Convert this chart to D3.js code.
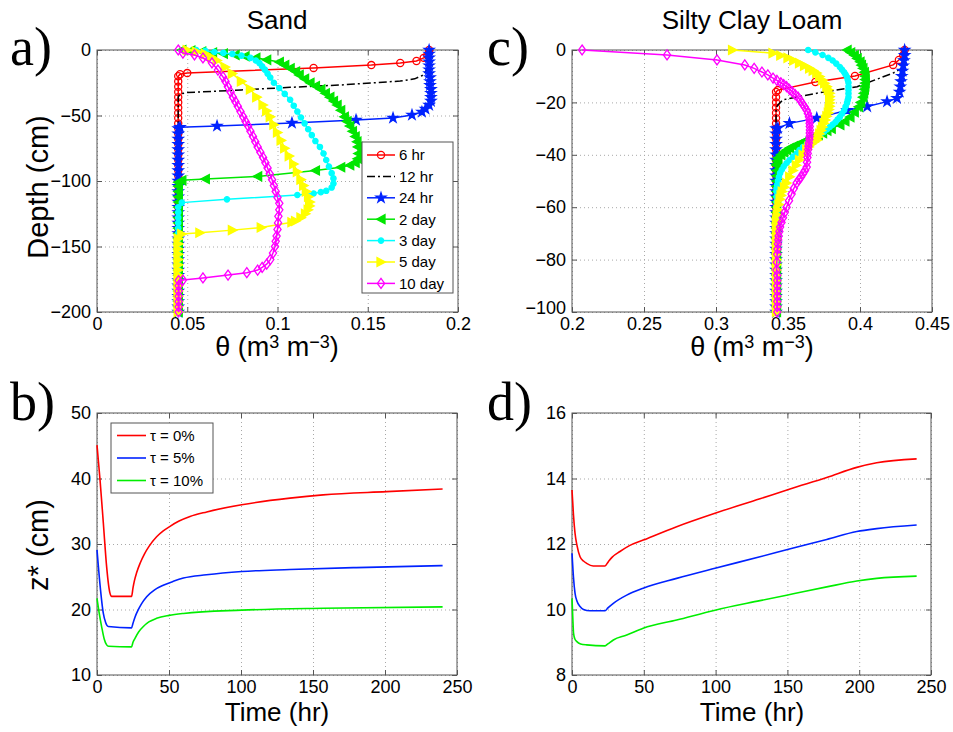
<!doctype html>
<html>
<head>
<meta charset="utf-8">
<script src="https://cdnjs.cloudflare.com/ajax/libs/d3/7.8.5/d3.min.js"></script>
<style>
  body { margin: 0; background: #fff; }
</style>
</head>
<body>
<svg width="953" height="732" font-family="'Liberation Sans', Arial, sans-serif"></svg>
<script>
// ---- data ----
var profileLabels = ["6 hr", "12 hr", "24 hr", "2 day", "3 day", "5 day", "10 day"];

// model depth nodes below the wetting fronts (cm)
var sandDepthGrid = [-20,-24,-28,-32,-36,-40,-44,-48,-52,-56,-60,-64,-68,-72,-76,-80,-84,-88,-92,-96,
  -100,-104,-108,-112,-116,-120,-124,-128,-132,-136,-140,-144,-148,-152,-156,-160,-164,-168,-172,-176,
  -180,-184,-188,-192,-196,-200];
var loamDepthGrid = [-16,-18,-20,-22,-24,-26,-28,-30,-32,-34,-36,-38,-40,-42,-44,-46,-48,-50,-52,-54,
  -56,-58,-60,-62,-64,-66,-68,-70,-72,-74,-76,-78,-80,-82,-84,-86,-88,-90,-92,-94,-96,-98,-100];

// residual water content below the front, per profile
var sandTail = [0.045, 0.045, 0.045, 0.045, 0.045, 0.045, 0.0452];
var loamTail = [0.3417, 0.3417, 0.3417, 0.342, 0.342, 0.342, 0.3425];

// [theta, depth] above the tail
var sand6hr = [[0.184,0],[0.184,-2],[0.183,-4],[0.181,-6],[0.177,-8.4],[0.168,-9.9],[0.152,-11.5],
  [0.12,-13.7],[0.05,-17.6],[0.046,-18.5]];
var sand12hr = [[0.184,0],[0.184,-8],[0.183,-14],[0.181,-19],[0.176,-22],[0.168,-23.7],[0.135,-26.7],
  [0.107,-28.5],[0.08,-30.5],[0.05,-32.5],[0.046,-33.5]];
var sand24hr = [[0.184,0],[0.184,-3],[0.184,-6],[0.184,-9],[0.184,-12],[0.184,-15],[0.184,-18],
  [0.1845,-21],[0.1845,-24],[0.1845,-27],[0.185,-30],[0.185,-33],[0.185,-36],[0.185,-39],[0.184,-42],
  [0.182,-45],[0.18,-47.3],[0.1745,-49.6],[0.164,-51.9],[0.1435,-53.4],[0.108,-55.7],[0.0665,-58],[0.046,-59]];
var sand2day = [[0.047,0],[0.052,-0.5],[0.058,-1.2],[0.064,-2],[0.07,-2.8],[0.0765,-3.8],[0.082,-4.8],
  [0.088,-6],[0.094,-7.5],[0.101,-9.2],[0.104,-11.5],[0.107,-14],[0.11,-16.5],[0.112,-19],[0.115,-22],
  [0.118,-25],[0.121,-27.5],[0.124,-30],[0.1265,-33],[0.129,-36],[0.131,-39],[0.133,-42],[0.135,-46],
  [0.137,-51],[0.1385,-54.5],[0.14,-58],[0.1415,-62],[0.143,-66],[0.144,-70],[0.1445,-74],[0.1447,-79],
  [0.1443,-83],[0.143,-86],[0.14,-88],[0.135,-89.5],[0.121,-92],[0.089,-96.5],[0.06,-98.5],[0.047,-99.5],
  [0.045,-101]];
var sand3day = [[0.055,0],[0.06,-0.7],[0.065,-1.5],[0.07,-2.2],[0.075,-3],[0.08,-4.3],[0.085,-6],
  [0.088,-8],[0.09,-10],[0.0915,-12.5],[0.093,-15],[0.0945,-18],[0.096,-21],[0.098,-25],[0.101,-29],
  [0.104,-33.5],[0.107,-38],[0.109,-42.5],[0.111,-47],[0.113,-51.5],[0.115,-56],[0.117,-60.5],
  [0.119,-65],[0.121,-69.5],[0.1235,-74],[0.1255,-79],[0.127,-84],[0.1285,-89],[0.13,-94],[0.131,-98],
  [0.131,-102],[0.13,-105],[0.127,-107.5],[0.124,-108.5],[0.12,-109.5],[0.111,-110.7],[0.072,-114],
  [0.047,-116.5]];
var sand5day = [[0.05,0],[0.055,-1.2],[0.06,-3],[0.0635,-5.5],[0.0665,-8],[0.071,-13],[0.075,-18],
  [0.08,-24],[0.085,-30],[0.0885,-36],[0.092,-42],[0.094,-46.5],[0.096,-51],[0.098,-57],[0.1,-63],
  [0.102,-69],[0.104,-75],[0.1065,-81],[0.109,-87],[0.111,-93],[0.113,-99],[0.1145,-103.5],[0.116,-108],
  [0.1172,-112],[0.118,-116],[0.1178,-119],[0.117,-122],[0.1155,-125],[0.113,-128],[0.11,-130.5],
  [0.108,-131.5],[0.091,-135.5],[0.075,-137.5],[0.057,-139.5],[0.047,-140.5]];
var sand10day = [[0.045,0],[0.0476,-2.3],[0.054,-3.8],[0.0587,-6.1],[0.0637,-9.9],[0.067,-15.3],
  [0.0698,-20.6],[0.0712,-24],[0.0725,-28],[0.074,-32],[0.0753,-36],[0.0767,-39.5],[0.078,-43],
  [0.0795,-47],[0.081,-51],[0.0823,-54.5],[0.0837,-58],[0.085,-62],[0.0864,-66],[0.0877,-70],[0.089,-74],
  [0.0905,-78],[0.092,-82],[0.0933,-86],[0.0945,-90],[0.0957,-94.5],[0.097,-99],[0.098,-103.5],
  [0.099,-108],[0.1,-112.5],[0.101,-117],[0.101,-122],[0.1005,-127],[0.1003,-132],[0.1,-137],
  [0.0995,-142],[0.099,-146],[0.0986,-150],[0.0975,-155],[0.096,-160],[0.094,-163.5],[0.0915,-166],
  [0.089,-168],[0.083,-170],[0.0726,-171.8],[0.0587,-174],[0.0476,-175.6]];

var loam6hr = [[0.431,0],[0.43,-2],[0.427,-3.8],[0.423,-5.7],[0.3965,-9.9],[0.369,-12.2],[0.343,-15.3]];
var loam12hr = [[0.431,0],[0.431,-4],[0.429,-7],[0.423,-8.8],[0.398,-14],[0.37,-16.5],[0.3465,-19],[0.343,-21]];
var loam24hr = [[0.431,0],[0.431,-2],[0.4305,-4],[0.43,-6],[0.4295,-8],[0.429,-10],[0.4285,-12],
  [0.428,-14],[0.4275,-16],[0.4257,-18.4],[0.4188,-19.7],[0.405,-21.6],[0.391,-23],[0.37,-26],
  [0.351,-28],[0.343,-29.8]];
var loam2day = [[0.391,0],[0.3935,-1],[0.396,-2],[0.398,-3.2],[0.4,-4.5],[0.401,-5.8],[0.402,-7],
  [0.403,-8.5],[0.4035,-10],[0.4035,-11.3],[0.4035,-12.6],[0.4033,-13.8],[0.403,-15],[0.4025,-16.5],
  [0.402,-18],[0.4005,-20],[0.399,-21.7],[0.396,-23.7],[0.393,-25.6],[0.3895,-27.2],[0.386,-28.6],
  [0.38,-30],[0.377,-30.8],[0.374,-31.7],[0.371,-32.4],[0.368,-33],[0.3655,-33.7],[0.363,-34.4],
  [0.36,-35.2],[0.357,-36],[0.354,-36.7],[0.351,-37.4],[0.349,-38.2],[0.347,-39],[0.345,-40],
  [0.343,-41.2],[0.3425,-42.3],[0.342,-43.5]];
var loam3day = [[0.364,0],[0.369,-0.9],[0.374,-1.9],[0.378,-3],[0.381,-4],[0.3835,-5.2],[0.386,-6.5],
  [0.3875,-7.5],[0.389,-8.5],[0.39,-9.4],[0.391,-10.3],[0.3915,-11.4],[0.392,-12.5],[0.392,-14],
  [0.392,-15.3],[0.392,-16.6],[0.392,-18],[0.3915,-19.1],[0.391,-20.2],[0.39,-21.6],[0.389,-23],
  [0.3875,-24.3],[0.386,-25.6],[0.3845,-26.5],[0.383,-27.5],[0.381,-28.5],[0.379,-29.4],[0.377,-30.3],
  [0.375,-31.3],[0.3725,-32.2],[0.37,-33.2],[0.3675,-34.1],[0.365,-35],[0.363,-36],[0.3605,-37],
  [0.358,-38.2],[0.356,-39.5],[0.3535,-40.7],[0.351,-42],[0.349,-43.2],[0.347,-44.5],[0.3457,-45.7],
  [0.3445,-47],[0.3437,-48.5],[0.343,-50],[0.3425,-51.5],[0.342,-53]];
var loam5day = [[0.3115,0],[0.3396,-1.2],[0.345,-2.1],[0.35,-3],[0.354,-4],[0.358,-5],[0.3615,-6],
  [0.365,-7],[0.3675,-7.9],[0.37,-8.8],[0.372,-10.1],[0.374,-11.5],[0.3755,-12.7],[0.377,-14],
  [0.378,-15.2],[0.379,-16.5],[0.379,-17.8],[0.379,-19],[0.379,-20.2],[0.379,-21.5],[0.3785,-22.7],
  [0.378,-24],[0.377,-25.3],[0.376,-26.7],[0.375,-28],[0.374,-29.4],[0.373,-30.7],[0.372,-32],
  [0.371,-33.2],[0.37,-34.4],[0.368,-35.2],[0.366,-36],[0.3645,-37],[0.363,-38],[0.3605,-40],
  [0.358,-42],[0.3558,-44],[0.3535,-46],[0.3512,-48.4],[0.349,-50.8],[0.3475,-52.4],[0.346,-54],
  [0.3452,-55.5],[0.3445,-57],[0.3437,-59],[0.343,-61],[0.3425,-63],[0.342,-65]];
var loam10day = [[0.207,0],[0.266,-1.9],[0.3007,-3.8],[0.32,-5.7],[0.3265,-7],[0.3319,-8.4],
  [0.336,-9.5],[0.3396,-10.7],[0.3423,-11.6],[0.345,-12.5],[0.347,-13.2],[0.349,-14],[0.351,-15],
  [0.353,-16],[0.355,-17],[0.357,-18],[0.3585,-19.2],[0.36,-20.5],[0.3615,-21.7],[0.363,-23],
  [0.3638,-24.2],[0.3645,-25.5],[0.3648,-26.7],[0.365,-28],[0.3651,-29.2],[0.3652,-30.5],[0.3651,-31.7],
  [0.365,-33],[0.3648,-34.2],[0.3645,-35.5],[0.3642,-36.7],[0.364,-38],[0.3637,-39.5],[0.3635,-41],
  [0.3632,-42.8],[0.363,-44.7],[0.3618,-46],[0.3604,-47.2],[0.359,-48.5],[0.3575,-49.6],[0.356,-50.8],
  [0.354,-52.9],[0.3525,-55],[0.3507,-57.5],[0.349,-60],[0.3477,-62],[0.3465,-64],[0.3455,-65.8],
  [0.3445,-67.6],[0.344,-69.3],[0.3435,-71],[0.3432,-72.5],[0.343,-74],[0.3427,-76],[0.3425,-78],
  [0.3422,-81],[0.342,-84]];

var tauLabels = ["\u03c4 = 0%", "\u03c4 = 5%", "\u03c4 = 10%"];

// [time hr, z* cm]
var sandTau0 = [[0,45.1],[1,42.6],[2.1,39.8],[4.4,33.2],[6.7,26.5],[8,23.8],[9,22.5],[10.2,22],[24,22],
  [25,23.3],[26,24.4],[27.5,25.6],[30,27.1],[33,28.5],[36,29.6],[41.4,31.1],[46,32],[50.7,32.7],
  [57,33.5],[64.6,34.2],[76.2,34.9],[100.5,36],[134,37],[157,37.5],[201,38],[240,38.4]];
var sandTau5 = [[0,29.1],[2,24],[4.4,19.4],[6,18],[7.8,17.4],[24,17.2],[25,17.9],[26.5,18.9],
  [28.5,19.9],[31,20.9],[34.5,21.95],[40,23],[46,23.7],[53,24.3],[60,24.8],[76,25.3],[100.5,25.8],
  [134,26.1],[180,26.4],[240,26.7]];
var sandTau10 = [[0,21.7],[1.5,19.5],[3.2,17.4],[5,15.5],[6.7,14.6],[8,14.4],[24,14.3],[25,15],[26.4,15.6],
  [29,16.6],[32.2,17.4],[36,18.1],[41.4,18.65],[50,19.1],[60,19.4],[100.5,19.9],[157,20.2],[240,20.4]];

var loamTau0 = [[0,13.65],[1,12.9],[2.1,12.33],[3.5,11.95],[5.6,11.61],[8,11.48],[10.2,11.41],[14.8,11.33],
  [23,11.33],[25.3,11.46],[28,11.6],[33.4,11.77],[40,11.95],[49.6,12.12],[72.9,12.53],[99.6,12.94],
  [130.9,13.38],[151.8,13.68],[177.4,14.03],[198.3,14.34],[212.2,14.48],[240,14.6]];
var loamTau5 = [[0,11.72],[1,11.0],[2.1,10.5],[3.5,10.25],[5.6,10.09],[8,10.0],[12.5,9.96],[23,9.96],
  [25,10.05],[28.8,10.19],[38.1,10.44],[49.6,10.65],[72.9,10.95],[99.6,11.26],[130.9,11.61],
  [154.1,11.88],[177.4,12.14],[198.3,12.38],[212.2,12.47],[240,12.58]];
var loamTau10 = [[0,10.34],[0.6,9.7],[1.1,9.27],[2,9.1],[3.4,9.02],[6,8.95],[10.2,8.92],[23,8.89],
  [25,8.95],[28.8,9.07],[38.1,9.22],[49.6,9.43],[72.9,9.68],[99.6,9.98],[130.9,10.27],[154.1,10.48],
  [177.4,10.69],[198.3,10.87],[212.2,10.95],[240,11.02]];

// tick values
var sandThetaTicks = [0, 0.05, 0.1, 0.15, 0.2];
var sandDepthTicks = [-200, -150, -100, -50, 0];
var loamThetaTicks = [0.2, 0.25, 0.3, 0.35, 0.4, 0.45];
var loamDepthTicks = [-100, -80, -60, -40, -20, 0];
var timeTicks = [0, 50, 100, 150, 200, 250];
var sandZTicks = [10, 20, 30, 40, 50];
var loamZTicks = [8, 10, 12, 14, 16];

// ---- styles ----
var profileStyles = [
  {color: "#ff0000", marker: "o"},
  {color: "#000000", marker: null, dash: "8,3,2,3"},
  {color: "#0022ff", marker: "p"},
  {color: "#00e600", marker: "<"},
  {color: "#00ffff", marker: "."},
  {color: "#ffff00", marker: ">"},
  {color: "#ff00ff", marker: "d"}
];
var tauColors = ["#ff0000", "#0022ff", "#00ee00"];
var sansFont = "'Liberation Sans', Arial, sans-serif";

var svg = d3.select("svg");

var boxA = {x0: 97, x1: 458, y0: 50, y1: 312},
    boxC = {x0: 572, x1: 932, y0: 50, y1: 312},
    boxB = {x0: 97, x1: 457, y0: 413, y1: 675},
    boxD = {x0: 572, x1: 931, y0: 413, y1: 675};

function fmt(v) {
  return (v < 0 ? "\u2212" : "") + Math.abs(v);
}

function makePanel(box, xDomain, yDomain, xTicks, yTicks, liftLowest) {
  var x = d3.scaleLinear().domain(xDomain).range([box.x0, box.x1]),
      y = d3.scaleLinear().domain(yDomain).range([box.y1, box.y0]);
  var w = box.x1 - box.x0, h = box.y1 - box.y0;
  var g = svg.append("g");

  // dotted grid
  g.append("g").attr("class", "grid")
   .attr("transform", "translate(0," + box.y1 + ")")
   .call(d3.axisBottom(x).tickValues(xTicks).tickSize(-h).tickFormat(""));
  g.append("g").attr("class", "grid")
   .attr("transform", "translate(" + box.x0 + ",0)")
   .call(d3.axisLeft(y).tickValues(yTicks).tickSize(-w).tickFormat(""));
  g.selectAll(".grid .domain").remove();
  g.selectAll(".grid line").attr("stroke", "#a8a8a8").attr("stroke-dasharray", "1,3");

  g.append("rect")
   .attr("x", box.x0).attr("y", box.y0).attr("width", w).attr("height", h)
   .attr("fill", "none").attr("stroke", "#555").attr("stroke-width", 1);

  // inward ticks on all four sides
  var left = g.append("g").attr("transform", "translate(" + box.x0 + ",0)")
     .call(d3.axisLeft(y).tickValues(yTicks).tickSize(-5).tickPadding(6).tickFormat(fmt));
  var axes = [
    g.append("g").attr("transform", "translate(0," + box.y1 + ")")
     .call(d3.axisBottom(x).tickValues(xTicks).tickSize(-5).tickPadding(5).tickFormat(fmt)),
    left,
    g.append("g").attr("transform", "translate(0," + box.y0 + ")")
     .call(d3.axisTop(x).tickValues(xTicks).tickSize(-5).tickFormat("")),
    g.append("g").attr("transform", "translate(" + box.x1 + ",0)")
     .call(d3.axisRight(y).tickValues(yTicks).tickSize(-5).tickFormat(""))
  ];
  axes.forEach(function(a) {
    a.select(".domain").remove();
    a.selectAll("line").attr("stroke", "#555");
    a.selectAll("text").attr("font-size", "18px")
     .attr("font-family", sansFont).attr("fill", "#000");
  });
  if (liftLowest) {
    // keep the corner label clear of the first x tick label
    left.selectAll("text").filter(function(d) { return d === yTicks[0]; }).attr("dy", "0.1em");
  }
  return {x: x, y: y, g: svg.append("g")};
}

function markerPath(type) {
  if (type === "o") return d3.symbol(d3.symbolCircle, 40)();
  if (type === "p") return d3.symbol(d3.symbolStar, 30)();
  if (type === "<") return "M-4.5,0L4,-4.5L4,4.5Z";
  if (type === ">") return "M4.5,0L-4,-4.5L-4,4.5Z";
  if (type === "d") return "M0,-5L3.6,0L0,5L-3.6,0Z";
  if (type === ".") return d3.symbol(d3.symbolCircle, 22)();
  return null;
}

function drawMarkers(g, pts, st) {
  if (!st.marker) return;
  var open = st.marker === "o" || st.marker === "d";
  g.selectAll(null).data(pts).enter().append("path")
   .attr("d", markerPath(st.marker))
   .attr("transform", function(d) { return "translate(" + d[0] + "," + d[1] + ")"; })
   .attr("fill", open ? "none" : st.color)
   .attr("stroke", st.color)
   .attr("stroke-width", 1.3);
}

function drawProfiles(p, fronts, tails, grid) {
  var line = d3.line().x(function(d) { return p.x(d[0]); }).y(function(d) { return p.y(d[1]); });
  fronts.forEach(function(front, i) {
    var last = front[front.length - 1][1];
    var pts = front.concat(grid.filter(function(d) { return d < last; })
                               .map(function(d) { return [tails[i], d]; }));
    var st = profileStyles[i];
    p.g.append("path").datum(pts)
     .attr("d", line).attr("fill", "none")
     .attr("stroke", st.color).attr("stroke-width", 1.5)
     .attr("stroke-dasharray", st.dash || null);
    drawMarkers(p.g, pts.map(function(d) { return [p.x(d[0]), p.y(d[1])]; }), st);
  });
}

function drawTimeSeries(p, series) {
  var line = d3.line().x(function(d) { return p.x(d[0]); }).y(function(d) { return p.y(d[1]); })
               .curve(d3.curveMonotoneX);
  series.forEach(function(s, i) {
    p.g.append("path").datum(s)
     .attr("d", line).attr("fill", "none")
     .attr("stroke", tauColors[i]).attr("stroke-width", 1.6);
  });
}

// ---- panels ----
var pA = makePanel(boxA, [0, 0.2], [-200, 0], sandThetaTicks, sandDepthTicks, false);
drawProfiles(pA, [sand6hr, sand12hr, sand24hr, sand2day, sand3day, sand5day, sand10day], sandTail, sandDepthGrid);

var pC = makePanel(boxC, [0.2, 0.45], [-100, 0], loamThetaTicks, loamDepthTicks, true);
drawProfiles(pC, [loam6hr, loam12hr, loam24hr, loam2day, loam3day, loam5day, loam10day], loamTail, loamDepthGrid);

var pB = makePanel(boxB, [0, 250], [10, 50], timeTicks, sandZTicks, false);
drawTimeSeries(pB, [sandTau0, sandTau5, sandTau10]);

var pD = makePanel(boxD, [0, 250], [8, 16], timeTicks, loamZTicks, false);
drawTimeSeries(pD, [loamTau0, loamTau5, loamTau10]);

// ---- legend (a) ----
var legA = svg.append("g");
legA.append("rect").attr("x", 362).attr("y", 142).attr("width", 91).attr("height", 151)
    .attr("fill", "#fff").attr("stroke", "#555");
profileLabels.forEach(function(lab, i) {
  var yy = 155 + i * 21.4, st = profileStyles[i];
  legA.append("line").attr("x1", 367).attr("x2", 395).attr("y1", yy).attr("y2", yy)
      .attr("stroke", st.color).attr("stroke-width", 1.5).attr("stroke-dasharray", st.dash || null);
  drawMarkers(legA, [[381, yy]], st);
  legA.append("text").attr("x", 399).attr("y", yy).attr("dy", "0.36em")
      .attr("font-size", "15px").text(lab);
});

// ---- legend (b) ----
var legB = svg.append("g");
legB.append("rect").attr("x", 111).attr("y", 423).attr("width", 102).attr("height", 70)
    .attr("fill", "#fff").attr("stroke", "#555");
tauLabels.forEach(function(lab, i) {
  var yy = 435.5 + i * 22.5;
  legB.append("line").attr("x1", 117).attr("x2", 146).attr("y1", yy).attr("y2", yy)
      .attr("stroke", tauColors[i]).attr("stroke-width", 1.6);
  legB.append("text").attr("x", 150).attr("y", yy).attr("dy", "0.36em")
      .attr("font-size", "15px").text(lab);
});

// ---- titles and labels ----
svg.append("text").attr("x", 277).attr("y", 29).attr("text-anchor", "middle")
   .attr("font-size", "26px").text("Sand");
svg.append("text").attr("x", 752).attr("y", 29).attr("text-anchor", "middle")
   .attr("font-size", "26px").text("Silty Clay Loam");

[["a)", 10, 65], ["c)", 487, 65], ["b)", 10, 420], ["d)", 487, 420]].forEach(function(l) {
  svg.append("text").attr("x", l[1]).attr("y", l[2])
     .attr("font-family", "'Liberation Serif', 'Times New Roman', serif")
     .attr("font-size", "54px").text(l[0]);
});

function thetaLabel(cx) {
  var t = svg.append("text").attr("x", cx).attr("y", 356).attr("text-anchor", "middle")
             .attr("font-size", "27px");
  t.append("tspan").text("\u03b8 (m");
  t.append("tspan").attr("dy", -8).attr("font-size", "18px").text("3");
  t.append("tspan").attr("dy", 8).text(" m");
  t.append("tspan").attr("dy", -8).attr("font-size", "18px").text("\u22123");
  t.append("tspan").attr("dy", 8).text(")");
}
thetaLabel(277);
thetaLabel(752);

svg.append("text").attr("x", 277).attr("y", 721).attr("text-anchor", "middle")
   .attr("font-size", "26px").text("Time (hr)");
svg.append("text").attr("x", 752).attr("y", 721).attr("text-anchor", "middle")
   .attr("font-size", "26px").text("Time (hr)");

svg.append("text").attr("transform", "translate(48,187) rotate(-90)").attr("text-anchor", "middle")
   .attr("font-size", "29px").text("Depth (cm)");
svg.append("text").attr("transform", "translate(48,545) rotate(-90)").attr("text-anchor", "middle")
   .attr("font-size", "29px").text("z* (cm)");
</script>
</body>
</html>
